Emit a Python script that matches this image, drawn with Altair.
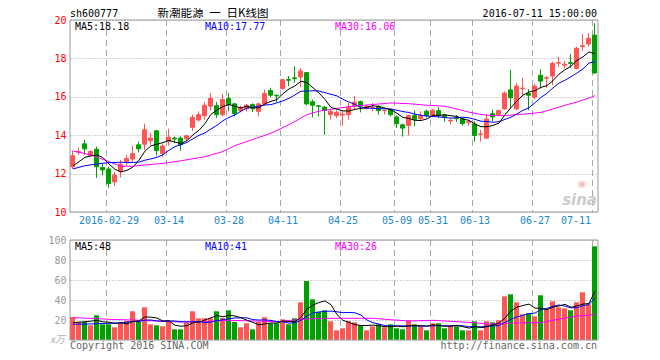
import altair as alt
import pandas as pd
import numpy as np

dates = ["2016-02-19", "2016-02-22", "2016-02-23", "2016-02-24", "2016-02-25", "2016-02-26", "2016-02-29",
         "2016-03-01", "2016-03-02", "2016-03-03", "2016-03-04", "2016-03-07", "2016-03-08", "2016-03-09",
         "2016-03-10", "2016-03-11", "2016-03-14", "2016-03-15", "2016-03-16", "2016-03-17", "2016-03-18",
         "2016-03-21", "2016-03-22", "2016-03-23", "2016-03-24", "2016-03-25", "2016-03-28", "2016-03-29",
         "2016-03-30", "2016-03-31", "2016-04-01", "2016-04-05", "2016-04-06", "2016-04-07", "2016-04-08",
         "2016-04-11", "2016-04-12", "2016-04-13", "2016-04-14", "2016-04-15", "2016-04-18", "2016-04-19",
         "2016-04-20", "2016-04-21", "2016-04-22", "2016-04-25", "2016-04-26", "2016-04-27", "2016-04-28",
         "2016-04-29", "2016-05-03", "2016-05-04", "2016-05-05", "2016-05-06", "2016-05-09", "2016-05-10",
         "2016-05-11", "2016-05-12", "2016-05-13", "2016-05-30", "2016-05-31", "2016-06-01", "2016-06-02",
         "2016-06-03", "2016-06-06", "2016-06-07", "2016-06-08", "2016-06-13", "2016-06-14", "2016-06-15",
         "2016-06-16", "2016-06-17", "2016-06-20", "2016-06-21", "2016-06-22", "2016-06-23", "2016-06-24",
         "2016-06-27", "2016-06-28", "2016-06-29", "2016-06-30", "2016-07-01", "2016-07-04", "2016-07-05",
         "2016-07-06", "2016-07-07", "2016-07-08", "2016-07-11"]

opens = [12.36, 13.12, 13.55, 12.94, 13.27, 12.31, 12.24, 11.57, 12.10, 12.62, 12.76, 13.50, 13.53, 13.71,
         14.23, 13.06, 13.67, 13.85, 13.85, 13.81, 14.41, 14.79, 15.02, 15.51, 15.54, 15.07, 15.91, 15.63,
         15.28, 15.38, 15.60, 15.24, 15.63, 16.33, 16.08, 16.43, 16.90, 16.99, 17.03, 17.26, 15.74, 15.53,
         15.46, 15.07, 15.02, 15.05, 15.07, 15.51, 15.75, 15.39, 15.44, 15.51, 15.28, 15.33, 14.95, 14.54,
         14.51, 15.02, 14.86, 15.25, 15.02, 15.28, 15.05, 14.74, 14.90, 14.86, 14.67, 14.58, 14.05, 13.85,
         15.12, 15.07, 15.37, 16.36, 15.37, 16.42, 16.17, 15.98, 17.12, 16.97, 17.08, 17.75, 17.65, 17.78,
         17.48, 18.62, 18.75, 19.21]
highs = [13.20, 13.35, 13.76, 13.22, 13.41, 12.54, 12.36, 12.10, 12.71, 12.97, 13.46, 13.67, 14.60, 14.11,
         14.28, 13.53, 14.34, 13.93, 13.93, 14.02, 15.07, 15.24, 15.73, 16.20, 15.73, 16.15, 16.20, 15.68,
         15.54, 15.63, 15.66, 15.68, 16.37, 16.47, 16.12, 16.94, 17.08, 17.60, 17.50, 17.30, 15.86, 15.56,
         15.51, 15.33, 15.30, 15.25, 15.68, 16.04, 15.80, 15.60, 15.68, 15.56, 15.33, 15.39, 15.02, 14.60,
         15.07, 15.28, 15.25, 15.33, 15.37, 15.46, 15.12, 14.86, 15.04, 14.90, 14.81, 14.72, 14.28, 15.10,
         15.33, 15.33, 16.29, 17.40, 16.73, 17.00, 16.40, 16.68, 17.43, 17.08, 17.83, 18.08, 17.87, 18.22,
         18.60, 19.27, 19.32, 19.83]
lows = [12.24, 12.98, 13.00, 12.90, 11.78, 11.92, 11.26, 11.36, 11.80, 12.41, 12.62, 13.11, 13.23, 13.50,
        12.94, 12.88, 13.46, 13.58, 13.20, 13.71, 14.23, 14.72, 14.81, 15.30, 14.90, 14.98, 15.24, 14.98,
        15.19, 15.24, 15.20, 14.98, 15.56, 15.98, 15.73, 16.38, 16.55, 16.73, 16.50, 15.56, 14.93, 14.98,
        14.02, 14.81, 14.90, 14.50, 14.81, 15.33, 15.19, 15.33, 15.25, 15.07, 15.07, 14.98, 14.37, 13.93,
        13.98, 14.46, 14.81, 14.93, 14.93, 14.90, 14.70, 14.55, 14.69, 14.49, 14.49, 13.67, 13.67, 13.81,
        14.72, 15.04, 15.33, 15.40, 15.30, 16.03, 15.30, 15.86, 16.43, 16.47, 16.60, 17.55, 17.48, 17.52,
        17.43, 18.39, 18.62, 17.20]
closes = [12.93, 13.15, 13.29, 13.15, 12.36, 12.19, 11.49, 11.92, 12.48, 12.78, 13.04, 13.29, 14.28, 13.85,
          13.20, 13.44, 13.90, 13.80, 13.50, 13.97, 14.93, 15.07, 15.56, 15.91, 15.07, 15.86, 15.59, 15.12,
          15.45, 15.56, 15.38, 15.63, 16.17, 16.08, 16.05, 16.89, 16.86, 16.95, 17.34, 15.63, 15.56, 15.50,
          15.28, 15.25, 15.19, 15.10, 15.47, 15.72, 15.51, 15.51, 15.46, 15.28, 15.30, 15.07, 14.60, 14.37,
          15.02, 14.81, 15.02, 15.02, 15.30, 15.03, 14.94, 14.77, 14.86, 14.60, 14.70, 13.99, 14.07, 14.84,
          14.95, 15.28, 16.19, 15.95, 16.56, 16.45, 16.08, 16.56, 16.82, 17.00, 17.74, 17.78, 17.70, 17.74,
          18.53, 18.66, 19.05, 17.24]
volumes = [23.0, 18.0, 18.0, 14.7, 24.7, 15.7, 15.7, 12.7, 17.3, 19.0, 28.7, 18.0, 32.7, 15.7, 14.7, 13.7,
           19.0, 10.7, 10.7, 17.3, 28.7, 21.7, 21.7, 21.7, 28.7, 22.0, 29.7, 18.0, 12.7, 16.7, 10.7, 18.0,
           22.7, 16.7, 16.7, 20.7, 15.7, 21.7, 37.7, 59.0, 40.7, 28.3, 29.7, 18.7, 9.7, 11.7, 18.7, 17.7,
           14.7, 9.7, 13.7, 15.7, 12.7, 15.7, 11.7, 10.7, 19.7, 15.7, 13.7, 9.7, 16.7, 16.7, 11.7, 14.7,
           13.7, 9.7, 9.7, 18.7, 9.7, 18.7, 17.7, 19.7, 43.7, 45.7, 37.7, 25.7, 26.7, 23.7, 44.7, 30.7,
           38.7, 32.7, 31.7, 29.7, 37.7, 47.7, 35.7, 93.7]

# moving-average values read at the left edge (before a full window exists)
ma5_head = [12.41, 12.62, 12.85, 12.92]
ma10_head = [12.24, 12.33, 12.41, 12.46, 12.50, 12.54, 12.57, 12.58, 12.59]
vma5_head = [17.3, 17.8, 18.3, 18.8]
vma10_head = [15.7, 15.8, 16.0, 16.1, 16.3, 16.5, 16.7, 16.9, 17.0]

# MA30 lines
ma30_idx = [0, 3, 6, 8, 10, 12, 15, 17, 19, 22, 25, 27, 30, 33, 36, 39, 41, 44, 47, 50, 53, 56, 59, 62,
            64, 66, 68, 70, 72, 74, 76, 78, 80, 82, 84, 86, 87]
ma30_val = [13.18, 12.97, 12.62, 12.38, 12.38, 12.45, 12.53, 12.62, 12.72, 12.88, 13.15, 13.46, 13.78,
            14.10, 14.55, 15.07, 15.25, 15.40, 15.52, 15.60, 15.68, 15.64, 15.56, 15.51, 15.36, 15.20,
            15.08, 15.02, 15.02, 15.07, 15.12, 15.19, 15.37, 15.56, 15.73, 15.94, 16.06]
vma30_idx = [0, 3, 6, 10, 14, 18, 22, 26, 30, 34, 38, 42, 46, 50, 52, 56, 60, 64, 67, 69, 72, 76, 78,
             80, 84, 86, 87]
vma30_val = [22.3, 21.7, 20.7, 20.0, 19.0, 18.0, 18.3, 19.7, 19.0, 18.3, 20.7, 21.7, 21.7, 21.7, 20.7,
             19.0, 19.7, 18.3, 17.3, 16.0, 16.7, 17.3, 17.3, 19.7, 24.0, 24.7, 26.0]

tick_dates = ["2016-02-29", "2016-03-14", "2016-03-28", "2016-04-11", "2016-04-25", "2016-05-09",
              "2016-05-31", "2016-06-13", "2016-06-27", "2016-07-11"]
tick_labels = ["2016-02-29", "03-14", "03-28", "04-11", "04-25", "05-09", "05-31", "06-13", "06-27", "07-11"]
price_ticks = [10, 12, 14, 16, 18, 20]
vol_ticks = [20, 40, 60, 80, 100]

RED = "#ff5555"
GREEN = "#00a000"
MONO = "DejaVu Sans Mono"
GRAY = "#a8a8a8"

W, H = 528, 320
PMIN = 20 - 320 / 19.2

c = pd.Series(closes)
ma5 = c.rolling(5).mean().to_numpy()
ma5[:4] = ma5_head
ma10 = c.rolling(10).mean().to_numpy()
ma10[:9] = ma10_head
v = pd.Series(volumes)
vma5 = v.rolling(5).mean().to_numpy()
vma5[:4] = vma5_head
vma10 = v.rolling(10).mean().to_numpy()
vma10[:9] = vma10_head

df = pd.DataFrame({
    "date": dates, "open": opens, "high": highs, "low": lows, "close": closes,
    "vol": volumes, "ma5": ma5, "ma10": ma10, "vma5": vma5, "vma10": vma10,
})
df["dir"] = np.where(df["close"] >= df["open"], "up", "down")
df["zero"] = 0.0

ma30_df = pd.DataFrame({"date": [dates[i] for i in ma30_idx], "ma30": ma30_val})
vma30_df = pd.DataFrame({"date": [dates[i] for i in vma30_idx], "vma30": vma30_val})
ticks_df = pd.DataFrame({"date": tick_dates, "label": tick_labels,
                         "ptop": 20.0, "pbot": 10.0, "vtop": 100.0, "vbot": 0.0})
frame_df = pd.DataFrame({"ptop": [20.0], "pbot": [10.0], "vtop": [100.0], "vbot": [0.0]})

xscale = alt.Scale(type="band", domain=dates, paddingInner=0, paddingOuter=0)
X = alt.X("date:O", scale=xscale, axis=None)

pscale = alt.Scale(domain=[PMIN, 20], nice=False, zero=False)
paxis = alt.Axis(values=price_ticks, orient="left", title=None, domain=False, ticks=False,
                 labelColor="#ff0000", labelFont=MONO, labelFontSize=10, labelPadding=4,
                 grid=True, gridColor=GRAY, gridDash=[1, 2])
vscale = alt.Scale(domain=[0, 320], nice=False, zero=False)
vaxis = alt.Axis(values=vol_ticks, orient="left", title=None, domain=False, ticks=False,
                 labelColor="#999999", labelFont=MONO, labelFontSize=10, labelPadding=4,
                 grid=True, gridColor=GRAY, gridDash=[1, 2])

col = alt.Color("dir:N", scale=alt.Scale(domain=["up", "down"], range=[RED, GREEN]), legend=None)
stk = alt.Stroke("dir:N", scale=alt.Scale(domain=["up", "down"], range=[RED, GREEN]), legend=None)

def PY(f):
    return alt.Y(f, scale=pscale, axis=paxis)

def VY(f):
    return alt.Y(f, scale=vscale, axis=vaxis)

base = alt.Chart(df)

p_vrules = alt.Chart(ticks_df).mark_rule(color=GRAY, strokeDash=[6, 4], strokeWidth=1, xOffset=-2.5).encode(
    x=X, y=PY("ptop:Q"), y2="pbot:Q")
p_wick = base.mark_rule(strokeWidth=1, xOffset=-0.5).encode(x=X, y=PY("low:Q"), y2="high:Q", color=col)
p_body = base.mark_bar(width=4, strokeWidth=1, xOffset=-0.5).encode(
    x=X, y=PY("open:Q"), y2="close:Q", color=col, stroke=stk)
p_ma5 = base.mark_line(color="#000000", strokeWidth=1).encode(x=X, y=PY("ma5:Q"))
p_ma10 = base.mark_line(color="#0000ff", strokeWidth=1).encode(x=X, y=PY("ma10:Q"))
p_ma30 = alt.Chart(ma30_df).mark_line(color="#ff00ff", strokeWidth=1).encode(x=X, y=PY("ma30:Q"))
p_frame = alt.Chart(frame_df).mark_rect(fillOpacity=0, stroke="#999999", strokeWidth=1).encode(
    x=alt.value(0), x2=alt.value(W), y=PY("ptop:Q"), y2="pbot:Q")
p_dates = alt.Chart(ticks_df[ticks_df["date"] != "2016-07-11"]).mark_text(
    font=MONO, fontSize=10, color="#1a88d0", align="center", baseline="middle").encode(
    x=X, y=alt.value(201), text="label:N")
p_last = alt.Chart(ticks_df[ticks_df["date"] == "2016-07-11"]).mark_text(
    font=MONO, fontSize=10, color="#1a88d0", align="right", baseline="middle", dx=-4).encode(
    x=X, y=alt.value(201), text="label:N")

price = alt.layer(p_vrules, p_wick, p_body, p_ma30, p_ma10, p_ma5, p_frame, p_dates, p_last)

v_vrules = alt.Chart(ticks_df).mark_rule(color=GRAY, strokeDash=[6, 4], strokeWidth=1, xOffset=-2.5).encode(
    x=X, y=VY("vtop:Q"), y2="vbot:Q")
v_bar = base.mark_bar(width=5, xOffset=-0.5).encode(x=X, y=VY("vol:Q"), y2="zero:Q", color=col)
v_ma5 = base.mark_line(color="#000000", strokeWidth=1).encode(x=X, y=VY("vma5:Q"))
v_ma10 = base.mark_line(color="#0000ff", strokeWidth=1).encode(x=X, y=VY("vma10:Q"))
v_ma30 = alt.Chart(vma30_df).mark_line(color="#ff00ff", strokeWidth=1).encode(x=X, y=VY("vma30:Q"))
v_frame = alt.Chart(frame_df).mark_rect(fillOpacity=0, stroke="#999999", strokeWidth=1).encode(
    x=alt.value(0), x2=alt.value(W), y=VY("vtop:Q"), y2="vbot:Q")

volume = alt.layer(v_vrules, v_bar, v_ma30, v_ma10, v_ma5, v_frame)


def label(text, x, y, color, size=10, align="left", font=MONO, **kw):
    return alt.Chart(pd.DataFrame({"t": [text]})).mark_text(
        align=align, baseline="middle", font=font, fontSize=size, color=color, **kw).encode(
        x=alt.value(x), y=alt.value(y), text="t:N")


texts = [
    label("sh600777", 0, -6.5, "#000000"),
    label("新潮能源\u2002一\u2002日K线图", 143, -6.5, "#000000", size=11.5, align="center",
          font="Noto Sans CJK SC"),
    label("2016-07-11 15:00:00", 527, -6.5, "#000000", align="right"),
    label("MA5:18.18", 5, 6.5, "#000000"),
    label("MA10:17.77", 135, 6.5, "#0000ff"),
    label("MA30:16.06", 265, 6.5, "#ff00ff"),
    label("MA5:48", 5, 226.5, "#000000"),
    label("MA10:41", 135, 226.5, "#0000ff"),
    label("MA30:26", 265, 226.5, "#ff00ff"),
    label("sina", 527, 180, "#cccccc", size=15, align="right", font="DejaVu Sans",
          fontStyle="italic", fontWeight="bold"),
    label("\u25c9", 512, 164, "#f5c0c0", size=10, align="center", font="DejaVu Sans"),
    label("Copyright 2016 SINA.COM", 0, 325.5, "#666666"),
    label("http://finance.sina.com.cn", 527, 325.5, "#666666", align="right"),
    label("x万", -5, 319.5, "#b0b0b0", align="right", font="Noto Sans CJK SC", fontStyle="italic"),
]

chart = alt.layer(price, volume, *texts).resolve_scale(y="independent").resolve_axis(y="independent").properties(
    width=W, height=H,
    autosize=alt.AutoSizeParams(type="none"),
    padding={"left": 62, "top": 12, "right": 46, "bottom": 14},
    background="white",
).configure_view(stroke=None)

chart.save("out.html", embed_options={"renderer": "svg", "actions": False})
